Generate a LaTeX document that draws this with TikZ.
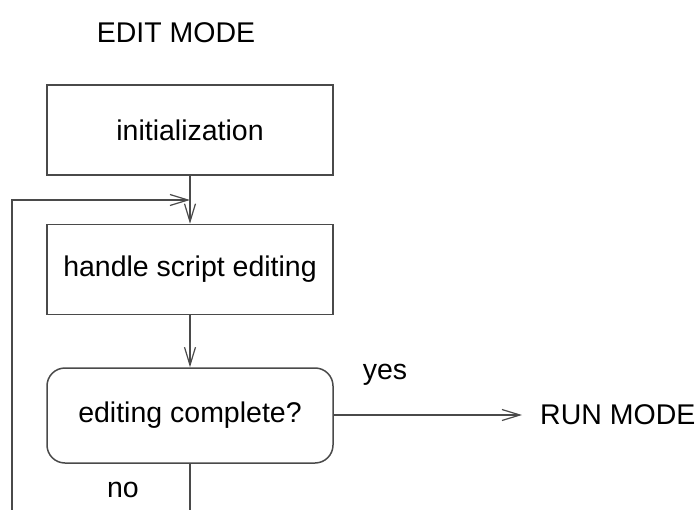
\documentclass[tikz,border=0pt]{standalone}
\usepackage{fontspec}
\setmainfont{Liberation Sans}
\usetikzlibrary{arrows.meta}
\definecolor{linec}{HTML}{4A4A4A}
\begin{document}
\begin{tikzpicture}[x=1pt,y=-1pt,
  every node/.style={font=\fontsize{28.5}{32}\selectfont, text=black},
  stepbox/.style={draw=linec, line width=1.5pt, minimum width=286pt, minimum height=90pt, inner sep=0pt},
  conn/.style={draw=linec, line width=1.5pt},
  arr/.style={conn, -{Straight Barb[length=18pt,width=11pt,line width=1.2pt]}}]
\useasboundingbox (0,0) rectangle (700,510);
\node (title) at (176,33) {EDIT MODE};
\node[stepbox] (init) at (190,130) {initialization};
\node[stepbox] (edit) at (190,269.5) {handle script editing};
\node[stepbox, rounded corners=18pt, minimum height=95pt] (done) at (190,415.5) {editing complete?};
\node[anchor=west, inner xsep=18pt, inner ysep=0pt] (run) at (522,415) {RUN MODE};
\node (yes) at (385,375) {yes};
\node (no) at (123,490) {no};
\coordinate (fb) at (190,200);
\coordinate (loopstart) at (12,512);
\coordinate (downend) at (190,512);
\draw[arr] (init.south) -- (edit.north);
\draw[arr] (edit.south) -- (done.north);
\draw[arr] (done.east |- run.west) -- (run.west);
\draw[conn] (done.south) -- (downend);
\draw[arr] (loopstart) |- (fb);
\end{tikzpicture}
\end{document}
